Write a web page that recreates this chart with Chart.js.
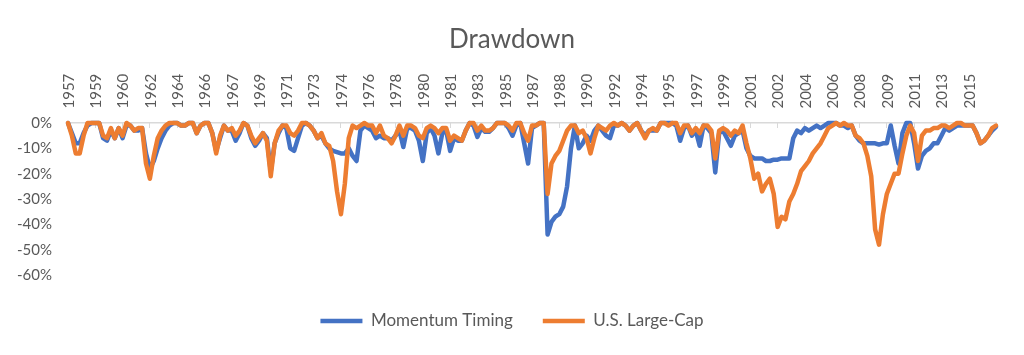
<!DOCTYPE html>
<html>
<head>
<meta charset="utf-8">
<style>
html,body{margin:0;padding:0;background:#fff;}
#wrap{width:1024px;height:355px;}
</style>
<script src="https://cdn.jsdelivr.net/npm/chart.js@4.4.1/dist/chart.umd.min.js"></script>
</head>
<body>
<div id="wrap"><canvas id="c" width="1024" height="355"></canvas></div>
<script>
const chartTitle = 'Drawdown';
const seriesNames = ['Momentum Timing', 'U.S. Large-Cap'];

// Year labels shown on the category axis (one every 7 quarters)
const tickLabels = ['1957','1959','1960','1962','1964','1966','1967','1969','1971','1973',
  '1974','1976','1978','1980','1981','1983','1985','1987','1988','1990','1992','1994',
  '1995','1997','1999','2001','2002','2004','2006','2008','2009','2011','2013','2015'];

// Quarterly categories, 1957 Q2 .. 2016 Q4
const categories = [];
for (let i = 0; i < 239; i++) {
  const m = i + 1;
  categories.push((1957 + Math.floor(m / 4)) + ' Q' + (m % 4 + 1));
}

// Drawdown, %
const momentumTiming = [
  0, -4, -8, -8, -4, -1, 0, 0, 0, -6,
  -7, -3, -6, -2, -6, -1, -1, -3, -3, -2,
  -12, -18, -15, -10, -6, -3, -1, 0, 0, -1,
  -1, 0, 0, -4, -1, 0, 0, -4, -11, -6,
  -1, -3, -3, -7, -4, 0, -1, -6, -9, -7,
  -4, -6, -19, -8, -4, -1, -2, -10, -11, -6,
  -1, 0, -1, -3, -6, -5, -8, -10, -11, -11.5,
  -12, -12, -10, -13, -15, -3, -1, -2, -3, -6,
  -5, -6, -6, -7, -5, -3, -9.5, -2, -2, -3,
  -7, -15, -4, -2, -5, -12, -4, -3, -11, -6,
  -7, -7, -3, 0, -1, -5.5, -2, -3.5, -3.5, -2,
  0, 0, 0, -2, -5, -1, 0, -8, -16, -2,
  -1, 0, 0, -44, -39, -37, -36, -33, -25, -10,
  -1, -10, -8, -5, -7, -3, -1, -3, -5, -6,
  -1, -1, 0, -1, -3, -1, 0, -3, -5, -3,
  -3, -3, 0, 0, 0, 0, -1, -7, -2, -1,
  -5, -3, -9, -1, -2, -4, -19.5, -4, -3, -6,
  -9, -5, -4, -3, -10, -13, -14, -14, -14, -15,
  -15, -14.5, -14.5, -14, -14, -14, -6, -3, -4, -2,
  -3, -2, -1, -2, -1, 0, 0, 0, -1, -1,
  -2, -1, -5, -7, -8, -8, -8, -8, -8.5, -8,
  -8, -1, -9, -16, -4, 0, 0, -8, -18, -13,
  -11, -10, -8, -8, -5, -2, -3, -2, -1, -1,
  -1, -1, -1, -4, -8, -7, -5, -3, -1.5
];
const usLargeCap = [
  0, -5, -12, -12, -5, 0, 0, 0, 0, -5,
  -6, -2, -6, -2, -5, 0, -1, -3, -2, -2,
  -16, -22, -13, -6, -3, -1, 0, 0, 0, -1,
  -1, 0, 0, -4, -1, 0, 0, -4, -12, -5,
  -1, -3, -2, -5, -3, 0, -1, -5, -8, -6,
  -4, -7, -21, -8, -3, -1, -1, -4, -5, -3,
  0, 0, -1, -3, -6, -4, -8, -9, -15, -27,
  -36, -24, -6, -1, -2, -1, 0, -1, -1, -4,
  -1, -5, -6, -8, -5, -1, -5, -1, -1, -2,
  -5, -6, -2, -1, -2, -4, -2, -2, -7, -5,
  -6, -7, -3, 0, 0, -3, -1, -3, -3, -2,
  0, 0, 0, -1, -3, 0, 0, -4, -7, -1,
  -1, 0, 0, -28, -16, -13, -11, -7, -3, -1,
  -1, -4, -3, -6, -12, -6, -1, -2, -3, -1,
  0, -1, 0, -1, -3, -1, 0, -3, -6, -3,
  -2, -3, 0, 0, -1, 0, 0, -4, -1, -1,
  -4, -2, -4, -1, -1, -3, -14, -3, -2, -3,
  -5, -3, -4, -1, -8, -14, -22, -20, -27, -24,
  -22, -28, -41, -37, -38, -31, -28, -24, -19, -17,
  -15, -12, -10, -8, -5, -2, -1, 0, -1, 0,
  -1, -1, -5, -6, -8, -13, -21, -42, -48, -36,
  -28, -24, -20, -20, -12, -5, -1, -4, -15, -5,
  -3, -3, -2, -2, -1, -1, -2, -1, 0, 0,
  -1, -1, -1, -4, -8, -7, -5, -2, -1
];

const TEXT = '#595959';
const AXIS = '#D9D9D9';
const FONT = 'Lato, "Open Sans", sans-serif';

function lineSet(label, data, color, order) {
  return {
    label, data, order,
    borderColor: color, backgroundColor: color,
    borderWidth: 4.5, pointRadius: 0, pointHoverRadius: 0, pointStyle: 'line',
    tension: 0, borderJoinStyle: 'round', borderCapStyle: 'round',
    clip: false, yAxisID: 'y'
  };
}

new Chart(document.getElementById('c'), {
  type: 'line',
  data: {
    labels: categories,
    datasets: [
      lineSet(seriesNames[0], momentumTiming, '#4472C4', 1),
      lineSet(seriesNames[1], usLargeCap, '#ED7D31', 0)
    ]
  },
  options: {
    responsive: false,
    animation: false,
    devicePixelRatio: 1,
    events: [],
    layout: { padding: { left: 0, right: 0, top: 0, bottom: 15.5 } },
    plugins: {
      title: {
        display: true, text: chartTitle, color: TEXT,
        font: { family: FONT, size: 26, weight: 'normal', lineHeight: 1.2 },
        padding: { top: 24, bottom: 0 }
      },
      legend: {
        position: 'bottom',
        labels: {
          usePointStyle: true, pointStyleWidth: 42,
          color: TEXT, font: { family: FONT, size: 17 }, padding: 30,
          sort: (a, b) => a.datasetIndex - b.datasetIndex
        },
        title: { display: true, text: ' ', font: { size: 5, lineHeight: 1.2 }, padding: { top: 1.5, bottom: 0 } }
      },
      tooltip: { enabled: false }
    },
    scales: {
      x: {
        position: 'top', offset: false,
        grid: {
          display: true, drawOnChartArea: false, drawTicks: true, tickLength: -5,
          color: c => (c.index % 7 === 0 ? AXIS : 'rgba(0,0,0,0)'),
          tickColor: c => (c.index % 7 === 0 ? AXIS : 'rgba(0,0,0,0)'),
          lineWidth: 1
        },
        border: { display: true, color: AXIS, width: 1.5 },
        ticks: {
          autoSkip: false, minRotation: 90, maxRotation: 90, padding: 19.5, labelOffset: 19,
          color: TEXT, font: { family: FONT, size: 15 },
          callback: (v, i) => (i % 7 === 0 ? tickLabels[i / 7] : '')
        },
        afterFit: s => { s.height = 67.8; }
      },
      y: {
        position: 'left', min: -60, max: 0,
        grid: { display: false, drawTicks: false },
        border: { display: false },
        ticks: { stepSize: 10, padding: 16, color: TEXT, font: { family: FONT, size: 15 }, callback: v => v + '%' },
        afterFit: s => { s.width = 68; }
      },
      y2: {
        position: 'right', display: true,
        grid: { display: false, drawTicks: false },
        border: { display: false },
        ticks: { display: false },
        afterFit: s => { s.width = 28; }
      }
    }
  }
});
</script>
</body>
</html>
